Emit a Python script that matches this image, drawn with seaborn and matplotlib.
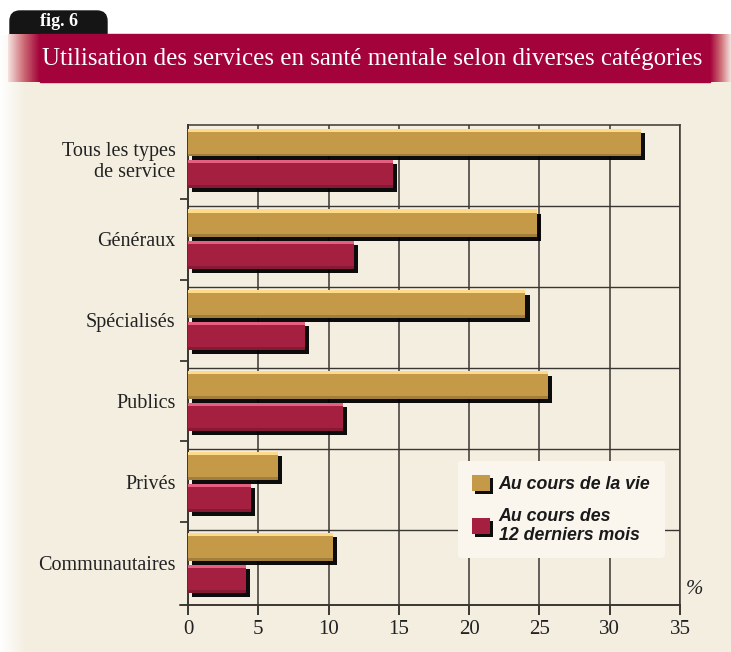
import matplotlib
matplotlib.use("Agg")
import matplotlib.pyplot as plt
import matplotlib.patheffects as pe
from matplotlib.patches import Rectangle, FancyBboxPatch
from matplotlib.colors import LinearSegmentedColormap
import numpy as np
import pandas as pd
import seaborn as sns

# ---------------- data ----------------
categories = ["Tous les types\nde service", "Généraux", "Spécialisés",
              "Publics", "Privés", "Communautaires"]
vie = [32.2, 24.8, 24.0, 25.6, 6.4, 10.3]
douze_mois = [14.6, 11.8, 8.3, 11.0, 4.5, 4.1]
series_labels = ["Au cours de la vie", "Au cours des\n12 derniers mois"]
xticks = [0, 5, 10, 15, 20, 25, 30, 35]
title = "Utilisation des services en santé mentale selon diverses catégories"
fig_tag = "fig. 6"

GOLD = "#C49A48"
RED = "#A41F40"
CREAM = "#F4EEE1"
CRIMSON = "#A3023A"
GRID = "#3A3632"

df = pd.DataFrame({
    "cat": categories * 2,
    "val": vie + douze_mois,
    "serie": [series_labels[0]] * len(categories) + [series_labels[1]] * len(categories),
})

sns.set_theme(style="white")
plt.rcParams["font.family"] = ["Liberation Serif", "DejaVu Serif"]

W, H = 731, 652
fig = plt.figure(figsize=(W / 100, H / 100), dpi=100)
fig.patch.set_facecolor(CREAM)

# background decorations (figure level)
bg = fig.add_axes([0, 0, 1, 1], zorder=-5)
bg.axis("off")
bg.add_patch(Rectangle((0, 0), W, 34, color="white", zorder=0))
fade = LinearSegmentedColormap.from_list("fade", [(1, 1, 1, 0), (1, 1, 1, 1)])
bg.imshow(np.linspace(1, 0, 64).reshape(1, -1), extent=(0, 26, H, 34), cmap=fade,
          vmin=0, vmax=1, aspect="auto", zorder=1)
# banner
bg.add_patch(Rectangle((40, 34), 670, 48, color=CRIMSON, zorder=2))
cm_l = LinearSegmentedColormap.from_list("bl", ["#F5E2DE", "#CC6A74", CRIMSON])
bg.imshow(np.linspace(0, 1, 64).reshape(1, -1), extent=(8, 40, 82, 34), cmap=cm_l,
          aspect="auto", zorder=2)
bg.imshow(np.linspace(1, 0, 64).reshape(1, -1), extent=(710, 731, 82, 34), cmap=cm_l,
          aspect="auto", zorder=2)
# tag
bg.add_patch(FancyBboxPatch((10, 11), 97, 32, boxstyle="round,pad=0,rounding_size=10",
                            color="#151515", zorder=1.5))
bg.text(59, 22, fig_tag, color="white", fontsize=13, fontweight="bold",
        ha="center", va="center", zorder=3)
bg.text(42, 59, title, color="white", fontsize=18, ha="left", va="center", zorder=3)
bg.set_xlim(0, W)
bg.set_ylim(H, 0)

# ---------------- main axes ----------------
L, R, T, B = 188, 680, 125, 605
ax = fig.add_axes([L / W, 1 - B / H, (R - L) / W, (B - T) / H])
ax.set_facecolor("none")

sns.barplot(data=df, y="cat", x="val", hue="serie", orient="h",
            palette=[GOLD, RED], width=0.78, gap=0.12, saturation=1,
            edgecolor="none", linewidth=0, ax=ax, zorder=3)

shadow = [pe.SimplePatchShadow(offset=(3, -3), shadow_rgbFace="black", alpha=0.95),
          pe.Normal()]
bars = [p for p in ax.patches if p.get_width() > 0]
for p in bars:
    p.set_path_effects(shadow)
    x0, y0, w, h = p.get_x(), p.get_y(), p.get_width(), p.get_height()
    fc = p.get_facecolor()
    light = tuple(min(1, c + 0.25) for c in fc[:3])
    dark = tuple(c * 0.82 for c in fc[:3])
    ax.add_patch(Rectangle((x0, y0), w, h * 0.11, color=light, zorder=3.5, lw=0))
    ax.add_patch(Rectangle((x0, y0 + h * 0.9), w, h * 0.1, color=dark, zorder=3.5, lw=0))

n = len(categories)
ax.set_xlim(0, 35)
ax.set_ylim(n - 1 + 0.52, -0.41)

# grid
ax.set_axisbelow(True)
ax.set_xticks(xticks)
ax.xaxis.grid(True, color=GRID, lw=1.1)
ax.yaxis.grid(False)
for i in range(1, n):
    ax.axhline(i - 0.41, color=GRID, lw=1.0, zorder=1)

for s in ["top", "right", "left", "bottom"]:
    ax.spines[s].set_visible(True)
    ax.spines[s].set_color(GRID)
ax.spines["bottom"].set_linewidth(1.4)
ax.spines["left"].set_linewidth(1.4)
ax.spines["top"].set_linewidth(1.1)
ax.spines["right"].set_linewidth(1.1)
ax.plot([-0.6, 0], [n - 1 + 0.52] * 2, color=GRID, lw=1.4, clip_on=False)

ax.set_yticks(range(n))
ax.set_yticklabels(categories, fontsize=14.5, color="#222222", linespacing=1.15)
ax.set_yticks([i + 0.5 for i in range(n - 1)], minor=True)
ax.tick_params(axis="y", which="major", length=0, pad=9)
ax.tick_params(axis="y", which="minor", length=6, width=1.3, color=GRID, direction="out", left=True)
ax.tick_params(axis="x", length=7, width=1.4, color=GRID, direction="out", labelsize=15,
               pad=4, labelcolor="#222222", bottom=True)
ax.set_xticklabels([str(t) for t in xticks])
for lab in ax.get_yticklabels():
    lab.set_ha("right")
    lab.set_multialignment("right")
ax.set_xlabel("")
ax.set_ylabel("")
ax.text(1.012, 0.012, "%", transform=ax.transAxes, fontsize=15, style="italic",
        color="#222222", ha="left", va="bottom")

# legend
handles, labels = ax.get_legend_handles_labels()
leg = ax.legend(handles, labels, loc="upper left",
                bbox_to_anchor=(449 / W, 1 - 452 / H), bbox_transform=fig.transFigure,
                frameon=True, facecolor="#FAF6EE", edgecolor="none", framealpha=1,
                handlelength=1.0, handleheight=1.0, handletextpad=0.5,
                labelspacing=0.85, borderpad=0.8,
                prop={"family": ["Liberation Sans Narrow", "Liberation Sans"],
                      "style": "italic", "weight": "bold", "size": 12.8})
leg.set_zorder(6)
for t in leg.get_texts():
    t.set_color("#1A1A1A")
    t.set_linespacing(1.1)
for hnd in leg.legend_handles:
    hnd.set_path_effects([pe.SimplePatchShadow(offset=(2, -2), shadow_rgbFace="black", alpha=0.95),
                          pe.Normal()])

fig.savefig("out.png", dpi=100, facecolor=fig.get_facecolor())
